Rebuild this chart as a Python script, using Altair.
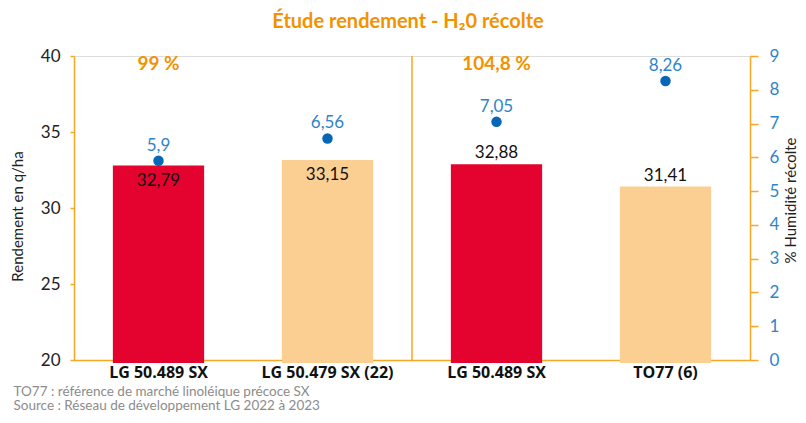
import json
import altair as alt
import pandas as pd

# ---- data ----
categories = ["LG 50.489 SX", "LG 50.479 SX (22)", "LG 50.489 SX", "TO77 (6)"]
rendement = [32.79, 33.15, 32.88, 31.41]          # q/ha (left axis)
humidite = [5.9, 6.56, 7.05, 8.26]                # % humidité récolte (right axis)
pct_labels = ["99 %", "104,8 %"]
pct_index = [0, 2]
footnote = ["TO77 : référence de marché linoléique précoce  SX",
            "Source : Réseau de développement LG 2022 à 2023"]

FONT = "Lato, Roboto, sans-serif"
XFONT = "Open Sans, Lato, sans-serif"
ORANGE = "#F7A823"
TITLE_ORANGE = "#F39200"
RED = "#E4032E"
PEACH = "#FBCF91"
BLUE_DOT = "#0867B5"
BLUE_TXT = "#2F84C9"

W, H = 676, 304

df = pd.DataFrame({
    "idx": list(range(len(categories))),
    "name": categories,
    "rendement": rendement,
    "humidite": humidite,
    "r_label": [str(v).replace(".", ",") for v in rendement],
    "h_label": [str(v).replace(".", ",") for v in humidite],
})
pct_df = pd.DataFrame({"idx": pct_index, "label": pct_labels})

label_expr = json.dumps(categories) + "[datum.value]"

x_enc = alt.X(
    "idx:O",
    scale=alt.Scale(paddingInner=0.46, paddingOuter=0.23),
    axis=alt.Axis(
        labelExpr=label_expr, labelAngle=0, labelFont=XFONT, labelFontSize=16,
        labelFontWeight="bold", labelColor="#111111", labelPadding=4,
        ticks=False, domainColor=ORANGE, domainWidth=1.5,
        title=footnote, titleFont=FONT, titleFontSize=13.5, titleFontWeight="normal",
        titleColor="#8C8C8C", titleAnchor="start", titleAlign="left",
        titleX=-61, titleY=24, titleBaseline="top", titleLineHeight=14.5,
    ),
)

y_left = alt.Y(
    "rendement:Q",
    scale=alt.Scale(domain=[20, 40], zero=False, nice=False),
    axis=alt.Axis(
        values=[20, 25, 30, 35, 40], grid=False, orient="left",
        domainColor=ORANGE, domainWidth=1.5, tickColor=ORANGE, tickSize=4, tickWidth=1.5,
        labelFont=FONT, labelFontSize=17, labelColor="#222222", labelPadding=10,
        title="Rendement en q/ha", titleFont=FONT, titleFontSize=15, titleFontWeight="normal",
        titleColor="#222222", titleAngle=270, titleX=-57, titleY=160,
        titleAlign="center", titleBaseline="middle",
    ),
)

bars = alt.Chart(df).mark_bar(clip=False).encode(
    x=x_enc,
    y=y_left,
    y2=alt.datum(19.8),
    color=alt.condition("datum.name == 'LG 50.489 SX'", alt.value(RED), alt.value(PEACH)),
)

bar_text_in = alt.Chart(df).mark_text(
    font=FONT, fontSize=17, color="#111111", dy=15, baseline="middle"
).encode(x=x_enc, y=y_left, text="r_label:N").transform_filter("datum.idx < 2")

bar_text_out = alt.Chart(df).mark_text(
    font=FONT, fontSize=17, color="#111111", dy=-11, baseline="middle"
).encode(x=x_enc, y=y_left, text="r_label:N").transform_filter("datum.idx >= 2")

divider = alt.Chart(df).mark_rule(color=ORANGE, strokeWidth=1.5).encode(
    x=alt.value(W / 2), y=alt.value(0), y2=alt.value(H)
).transform_filter("datum.idx == 0")

pct_text = alt.Chart(pct_df).mark_text(
    font=FONT, fontSize=19, fontWeight="bold", color=TITLE_ORANGE, baseline="middle"
).encode(x=x_enc, y=alt.value(8), text="label:N")

left_layer = alt.layer(bars, bar_text_in, bar_text_out, divider, pct_text)

y_right = alt.Y(
    "humidite:Q",
    scale=alt.Scale(domain=[0, 9], nice=False),
    axis=alt.Axis(
        values=[0, 1, 2, 3, 4, 5, 6, 7, 8, 9], grid=False, orient="right",
        domainColor=ORANGE, domainWidth=1.5, tickColor=ORANGE, tickSize=8, tickWidth=1.5,
        labelFont=FONT, labelFontSize=17, labelColor=BLUE_TXT, labelPadding=11,
        labelOverlap=False,
        title="% Humidité récolte", titleFont=FONT, titleFontSize=15, titleFontWeight="normal",
        titleColor="#222222", titleAngle=270, titleX=40, titleY=144,
        titleAlign="center", titleBaseline="middle",
    ),
)

dots = alt.Chart(df).mark_circle(size=110, opacity=1, color=BLUE_DOT).encode(
    x=x_enc, y=y_right
)
dot_text = alt.Chart(df).mark_text(
    font=FONT, fontSize=17, color=BLUE_TXT, dy=-15, baseline="middle"
).encode(x=x_enc, y=y_right, text="h_label:N")

right_layer = alt.layer(dots, dot_text)

chart = alt.layer(left_layer, right_layer).resolve_scale(y="independent").properties(
    width=W, height=H,
    autosize=alt.AutoSizeParams(type="none"),
    padding={"left": 66, "top": 48, "right": 48, "bottom": 55},
    title=alt.TitleParams(
        text="Étude rendement - H₂0 récolte", font=FONT, fontSize=20, fontWeight="bold",
        color=TITLE_ORANGE, anchor="middle", frame="group", offset=15, dx=-4,
    ),
).configure_view(stroke=None).configure(background="white")

chart.save("out.html", embed_options={"renderer": "svg", "actions": False})
